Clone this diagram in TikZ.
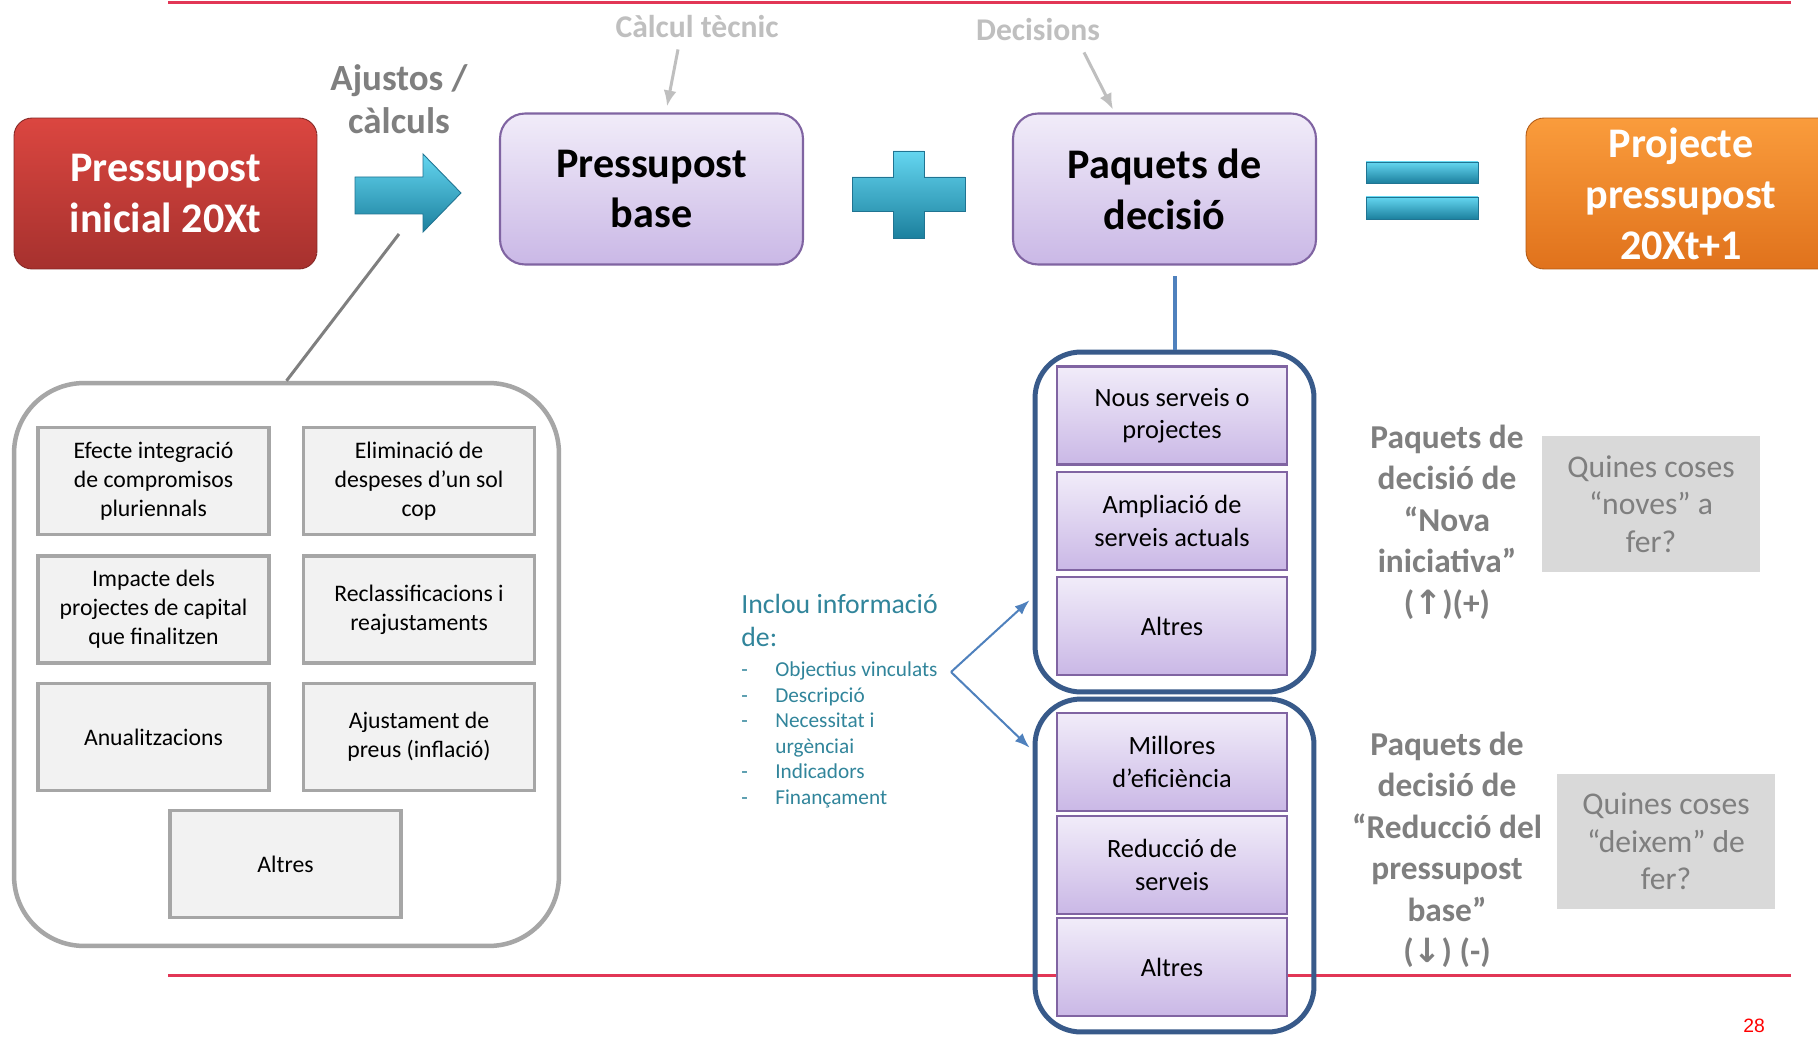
\documentclass[tikz,border=0pt]{standalone}
\usepackage{fontspec}
\setmainfont{Carlito}
\newfontfamily\arrowfont{DejaVu Sans}
\newfontfamily\pagefont{Liberation Sans}
\usetikzlibrary{positioning,arrows.meta}
\definecolor{slidered}{RGB}{226,54,86}
\definecolor{redtop}{RGB}{219,70,64}
\definecolor{redbot}{RGB}{166,49,46}
\definecolor{lilactop}{RGB}{241,236,249}
\definecolor{lilacbot}{RGB}{202,184,230}
\definecolor{lilacedge}{RGB}{128,100,162}
\definecolor{orangetop}{RGB}{250,156,60}
\definecolor{orangebot}{RGB}{224,114,28}
\definecolor{tealtop}{RGB}{100,214,240}
\definecolor{tealbot}{RGB}{28,128,158}
\definecolor{tealedge}{RGB}{32,116,146}
\definecolor{packblue}{RGB}{56,90,138}
\definecolor{linkblue}{RGB}{79,129,189}
\definecolor{infoteal}{RGB}{49,133,155}
\definecolor{notegrey}{RGB}{191,191,191}
\definecolor{labelgrey}{RGB}{127,127,127}
\definecolor{cellgrey}{RGB}{242,242,242}
\definecolor{celledge}{RGB}{166,166,166}
\definecolor{askgrey}{RGB}{217,217,217}
\tikzset{
  >=latex,
}
\tikzstyle{rule}=[slidered,line width=0.06cm]
\tikzstyle{stage}=[inner sep=0pt,align=center,minimum width=6.06cm,minimum height=3.02cm,font=\bfseries\fontsize{24}{29}\selectfont]
\tikzstyle{redstage}=[stage,rounded corners=0.36cm,top color=redtop,bottom color=redbot,draw=redbot!80!black,line width=0.5pt,text=white]
\tikzstyle{lilacstage}=[stage,rounded corners=0.5cm,top color=lilactop,bottom color=lilacbot,draw=lilacedge,line width=1.2pt]
\tikzstyle{orangestage}=[stage,rounded corners=0.36cm,top color=orangetop,bottom color=orangebot,draw=orangebot!80!black,line width=0.5pt,text=white]
\tikzstyle{tealshape}=[top color=tealtop,bottom color=tealbot,draw=tealedge,line width=0.5pt]
\tikzstyle{note}=[notegrey,font=\bfseries\fontsize{18}{22}\selectfont]
\tikzstyle{notearrow}=[notegrey,line width=0.06cm,-{Latex[length=0.32cm,width=0.26cm]}]
\tikzstyle{cell}=[fill=cellgrey,draw=celledge,line width=0.07cm,align=center,minimum width=4.62cm,minimum height=2.14cm,font=\fontsize{13.5}{16.5}\selectfont]
\tikzstyle{packitem}=[top color=lilactop,bottom color=lilacbot,draw=lilacedge,line width=1.2pt,align=center,minimum width=4.6cm,minimum height=1.96cm,font=\fontsize{15}{18.5}\selectfont]
\tikzstyle{packframe}=[draw=packblue,line width=0.1cm,rounded corners=0.92cm,minimum width=5.58cm]
\tikzstyle{grouplabel}=[labelgrey,align=center,font=\bfseries\fontsize{19}{23.6}\selectfont]
\tikzstyle{question}=[fill=askgrey,text=labelgrey,align=center,minimum width=4.36cm,minimum height=2.72cm,font=\fontsize{18}{21.3}\selectfont]
\tikzstyle{forkarrow}=[linkblue,line width=0.04cm,shorten >=0.08cm,-{Latex[length=0.3cm,width=0.22cm]}]

\begin{document}
\begin{tikzpicture}[x=0.02cm,y=-0.02cm]
    \path[use as bounding box,fill=white] (0,0) rectangle (1818,1037);
    % slide rules and page number
    \draw[rule] (168,3)--(1791,3);
    \draw[rule] (168,975)--(1791,975);
    \node[text=red,font=\pagefont\fontsize{11}{13}\selectfont] (page) at (1754,1026) {28};
    % top row
    \node[redstage] (inicial) at (165.5,193.5) {Pressupost\\inicial 20Xt};
    \node[lilacstage] (base) at (651.5,189) {Pressupost\\base};
    \node[lilacstage] (paquets) at (1164.5,189) {Paquets de\\decisió};
    \node[orangestage,minimum width=6.2cm] (projecte) at (1681,193.5) {Projecte\\pressupost\\20Xt+1};
    \path[tealshape] (355,177)--(423,177)--(423,154)--(461,193)--(423,232)--(423,214)--(355,214)--cycle;
    \path[tealshape] (852,177)--(893,177)--(893,151)--(924,151)--(924,177)--(965,177)
      --(965,211)--(924,211)--(924,238)--(893,238)--(893,211)--(852,211)--cycle;
    \path[tealshape] (1366,162) rectangle (1478,183);
    \path[tealshape] (1366,197) rectangle (1478,219);
    \node[labelgrey,align=center,font=\bfseries\fontsize{21}{24.5}\selectfont] (ajustos) at (399,99.5) {Ajustos /\\càlculs};
    \node[note] (calcul) at (697,27) {Càlcul tècnic};
    \node[note] (decisions) at (1038,30) {Decisions};
    \draw[notearrow] ([xshift=-0.38cm,yshift=-0.1cm]calcul.south) -- ([xshift=0.31cm,yshift=0.12cm]base.north);
    \draw[notearrow] ([xshift=0.92cm,yshift=-0.1cm]decisions.south) -- ([xshift=-1.03cm,yshift=0.06cm]paquets.north);
    % ajustos
    \node[draw=celledge,line width=0.09cm,rounded corners=1.4cm,minimum width=10.9cm,minimum height=11.26cm] (ajustframe) at (286.5,664.5) {};
    \coordinate (ajustfoot) at (399,234);
    \draw[labelgrey,line width=0.06cm] (ajustfoot) -- (ajustframe.north);
    \node[cell] (integracio) at (153.5,481) {Efecte integració\\de compromisos\\pluriennals};
    \node[cell] (eliminacio) at (419,481) {Eliminació de\\despeses d’un sol\\cop};
    \node[cell] (impacte) at (153.5,609.5) {Impacte dels\\projectes de capital\\que finalitzen};
    \node[cell] (reclass) at (419,609.5) {Reclassificacions i\\reajustaments};
    \node[cell] (anual) at (153.5,737) {Anualitzacions};
    \node[cell] (preus) at (419,737) {Ajustament de\\preus (inflació)};
    \node[cell] (altresajust) at (285.5,864) {Altres};
    % paquets de decisio
    \node[packframe,minimum height=6.8cm] (newframe) at (1174.5,522) {};
    \node[packframe,minimum height=6.66cm] (cutframe) at (1174.5,865.5) {};
    \coordinate (linktop) at (1174.5,276);
    \draw[linkblue,line width=0.08cm] (linktop) -- (newframe.north);
    \node[packitem] (nous) at (1172,415.5) {Nous serveis o\\projectes};
    \node[packitem] (ampliacio) at (1172,521) {Ampliació de\\serveis actuals};
    \node[packitem] (altresnou) at (1172,626) {Altres};
    \node[packitem] (millores) at (1172,762) {Millores\\d’eficiència};
    \node[packitem] (reduccio) at (1172,865) {Reducció de\\serveis};
    \node[packitem] (altresmenys) at (1172,967) {Altres};
    % informacio
    \node[infoteal,anchor=north west,inner sep=0pt,align=left,font=\fontsize{15.8}{18.5}\selectfont] (inclou) at (741,594) {Inclou informació\\de:};
    \node[infoteal,below=0.3cm of inclou.south west,anchor=north west,inner sep=0pt,align=left,font=\fontsize{12.1}{14.5}\selectfont] (items)
      {\makebox[0.68cm][l]{-}Objectius vinculats\\\makebox[0.68cm][l]{-}Descripció\\\makebox[0.68cm][l]{-}Necessitat i\\\hspace*{0.68cm}urgènciai\\\makebox[0.68cm][l]{-}Indicadors\\\makebox[0.68cm][l]{-}Finançament};
    \coordinate (fork) at (951,672);
    \draw[forkarrow] (fork) -- (newframe.208);
    \draw[forkarrow] (fork) -- (cutframe.141.5);
    % right labels
    \node[grouplabel] (novatxt) at (1447,522) {Paquets de\\decisió de\\“Nova\\iniciativa”\\({\arrowfont ↑})(+)};
    \node[grouplabel] (reductxt) at (1447,850) {Paquets de\\decisió de\\“Reducció del\\pressupost\\base”\\({\arrowfont ↓}) (-)};
    \node[question] (novaq) at (1651,504) {Quines coses\\“noves” a\\fer?};
    \node[question] (reduccioq) at (1666,841.5) {Quines coses\\“deixem” de\\fer?};
\end{tikzpicture}
\end{document}
